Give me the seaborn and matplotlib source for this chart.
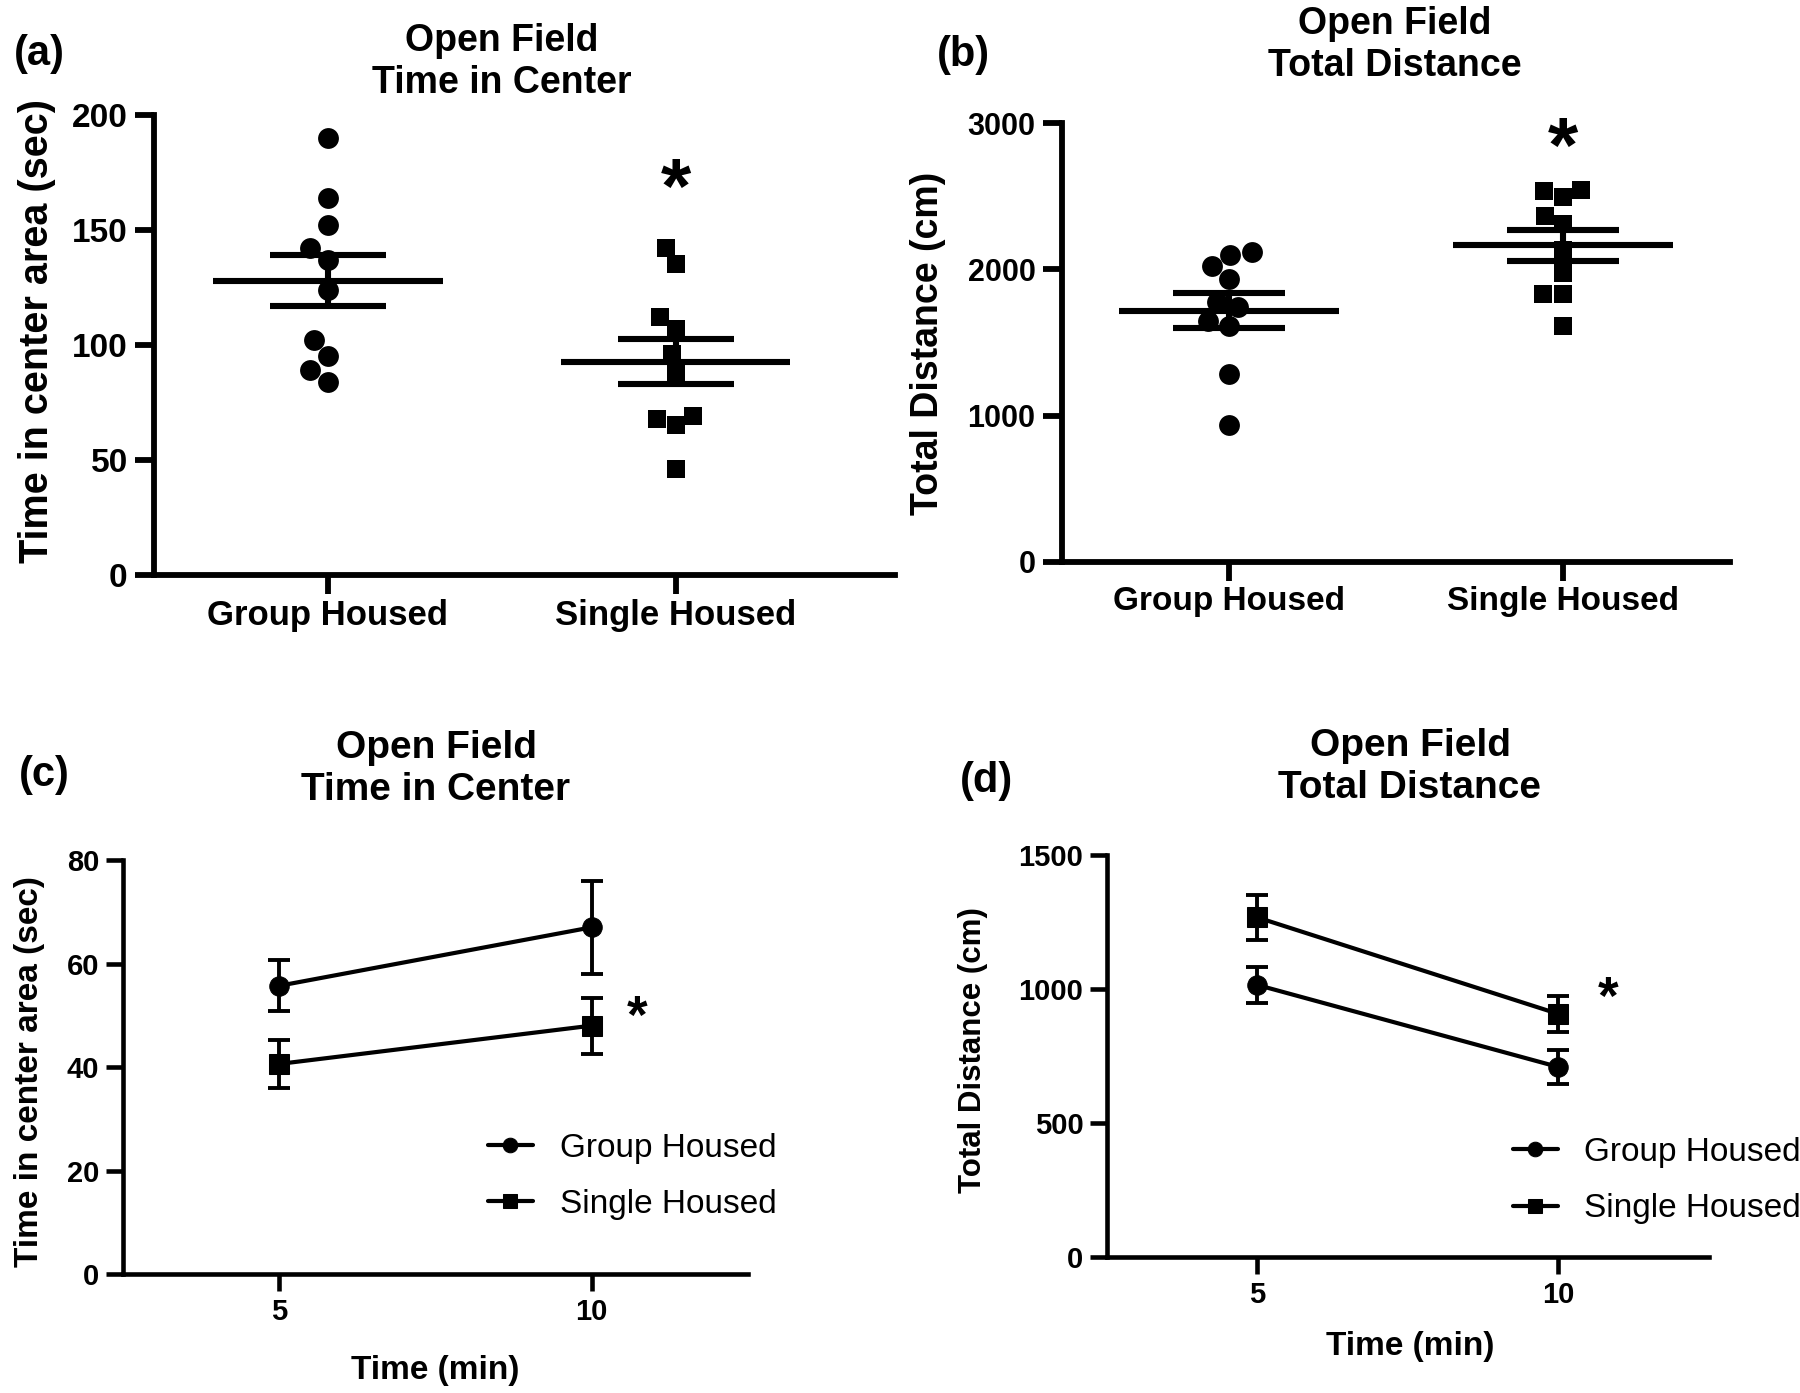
import numpy as np
import pandas as pd
import matplotlib
matplotlib.use("Agg")
import matplotlib.pyplot as plt
import seaborn as sns

# ---------------- data ----------------
groups = ["Group Housed", "Single Housed"]

center_time_group = [190, 164, 152, 142, 137, 124, 102, 95, 89, 84]
center_time_single = [142, 135, 112, 107, 96, 88, 69, 65, 68, 46]
distance_group = [2022, 2101, 2121, 1933, 1778, 1744, 1646, 1615, 1287, 935]
distance_single = [2537, 2545, 2494, 2362, 2312, 2129, 1975, 1834, 1834, 1610]

times = [5, 10]
center_mean_group = [55.7, 67.0]
center_sem_group = [4.9, 9.0]
center_mean_single = [40.6, 48.0]
center_sem_single = [4.6, 5.4]
dist_mean_group = [1015, 709]
dist_sem_group = [68, 65]
dist_mean_single = [1267, 907]
dist_sem_single = [85, 66]

# ---------------- style ----------------
sns.set_theme(style="ticks", rc={
    "axes.edgecolor": "black", "xtick.color": "black", "ytick.color": "black",
    "text.color": "black", "axes.labelcolor": "black",
})
plt.rcParams["font.family"] = ["Liberation Sans", "DejaVu Sans"]
plt.rcParams["font.weight"] = "bold"
plt.rcParams["axes.labelweight"] = "bold"

fig = plt.figure(figsize=(18, 13.93), dpi=100)


def style_axes(ax, lw, tick_fs=22, xtick_fs=None):
    ax.spines[["top", "right"]].set_visible(False)
    for s in ["left", "bottom"]:
        ax.spines[s].set_linewidth(lw)
    ax.tick_params(axis="both", direction="out", length=10, width=lw, pad=5)
    ax.tick_params(axis="y", labelsize=tick_fs)
    ax.tick_params(axis="x", labelsize=xtick_fs or tick_fs)
    for lab in ax.get_xticklabels() + ax.get_yticklabels():
        lab.set_fontweight("bold")


def scatter_panel(ax, g_vals, s_vals, ylim, yticks, ylabel, xlim, ylab_pos,
                  ytick_fs, xtick_fs, ylab_fs):
    df = pd.DataFrame({
        "group": [groups[0]] * len(g_vals) + [groups[1]] * len(s_vals),
        "value": g_vals + s_vals,
    })
    sns.swarmplot(data=df[df.group == groups[0]], x="group", y="value",
                  order=groups, marker="o", size=15, color="black", ax=ax)
    sns.swarmplot(data=df[df.group == groups[1]], x="group", y="value",
                  order=groups, marker="s", size=13.5, color="black", ax=ax)
    for i, g in enumerate(groups):
        v = df.loc[df.group == g, "value"].to_numpy(dtype=float)
        m = v.mean()
        se = v.std(ddof=1) / np.sqrt(len(v))
        ax.hlines(m, i - 0.33, i + 0.33, color="black", lw=4.4, zorder=5)
        ax.hlines([m - se, m + se], i - 0.167, i + 0.167, color="black", lw=4.4, zorder=5)
        ax.vlines(i, m - se, m + se, color="black", lw=4.4, zorder=5)
    ax.set_xlim(*xlim)
    ax.set_ylim(*ylim)
    ax.set_yticks(yticks)
    ax.set_xlabel("")
    ax.set_ylabel(ylabel, fontsize=ylab_fs, fontweight="bold", va="center")
    ax.yaxis.set_label_coords(*ylab_pos)
    style_axes(ax, lw=4.2, tick_fs=ytick_fs, xtick_fs=xtick_fs)
    ax.tick_params(axis="x", length=14, pad=3)
    ax.tick_params(axis="y", length=14)


def line_panel(ax, gm, gs, sm, ss, ylim, yticks, ylabel, ylab_pos, xlab_pos,
               leg_anchor, ylab_fs):
    df = pd.DataFrame({
        "time": times * 2,
        "mean": gm + sm,
        "sem": gs + ss,
        "group": [groups[0]] * len(times) + [groups[1]] * len(times),
    })
    sns.lineplot(data=df, x="time", y="mean", hue="group", style="group",
                 markers={groups[0]: "o", groups[1]: "s"}, dashes=False,
                 palette=["black", "black"], markersize=14,
                 markeredgecolor="black", linewidth=3.0, errorbar=None,
                 ax=ax, legend=True)
    for g in groups:
        sub = df[df.group == g]
        ax.errorbar(sub["time"], sub["mean"], yerr=sub["sem"], fmt="none",
                    ecolor="black", elinewidth=2.8, capsize=8, capthick=2.8)
    ax.set_xlim(2.5, 12.5)
    ax.set_xticks(times)
    ax.set_ylim(*ylim)
    ax.set_yticks(yticks)
    ax.set_xlabel("Time (min)", fontsize=24, fontweight="bold")
    ax.set_ylabel(ylabel, fontsize=ylab_fs, fontweight="bold", va="center")
    ax.yaxis.set_label_coords(*ylab_pos)
    ax.xaxis.set_label_coords(*xlab_pos)
    handles, labels = ax.get_legend_handles_labels()
    for h in handles:
        h.set_markersize(10.5)
        h.set_linewidth(3.0)
        h.set_color("black")
    ax.legend(handles, labels, loc="center left", bbox_to_anchor=leg_anchor,
              frameon=False, prop={"size": 24, "weight": "normal"},
              handlelength=1.35, handletextpad=0.8, labelspacing=0.76,
              borderpad=0, borderaxespad=0)
    style_axes(ax, lw=3.3, tick_fs=21)
    ax.tick_params(axis="both", length=12)


# ---------------- panels ----------------
ax_a = fig.add_axes([0.0856, 0.5872, 0.4115, 0.3303])
scatter_panel(ax_a, center_time_group, center_time_single, (0, 200),
              [0, 50, 100, 150, 200], "Time in center area (sec)",
              (-0.5, 1.63), (-0.158, 0.53), 24, 25, 28.5)
ax_a.text(1, 166.5, "*", ha="center", va="center", fontsize=56, fontweight="bold")

ax_b = fig.add_axes([0.59, 0.5966, 0.3711, 0.3151])
scatter_panel(ax_b, distance_group, distance_single, (0, 3000),
              [0, 1000, 2000, 3000], "Total Distance (cm)",
              (-0.5, 1.5), (-0.2, 0.497), 22, 24, 27)
ax_b.text(1, 2804, "*", ha="center", va="center", fontsize=56, fontweight="bold")

ax_c = fig.add_axes([0.0683, 0.0854, 0.3472, 0.2972])
line_panel(ax_c, center_mean_group, center_sem_group, center_mean_single,
           center_sem_single, (0, 80), [0, 20, 40, 60, 80],
           "Time in center area (sec)", (-0.15, 0.49), (0.5, -0.195),
           (0.584, 0.236), 24)
ax_c.text(10.72, 49.2, "*", ha="center", va="center", fontsize=38, fontweight="bold")

ax_d = fig.add_axes([0.615, 0.0976, 0.3344, 0.2886])
line_panel(ax_d, dist_mean_group, dist_sem_group, dist_mean_single,
           dist_sem_single, (0, 1500), [0, 500, 1000, 1500],
           "Total Distance (cm)", (-0.222, 0.515), (0.503, -0.185),
           (0.674, 0.19), 22.5)
ax_d.text(10.83, 958, "*", ha="center", va="center", fontsize=38, fontweight="bold")

# ---------------- titles & panel labels ----------------
title_kw = dict(ha="center", va="center", fontweight="bold", linespacing=1.2)
fig.text(502 / 1800, 1 - 62 / 1393, "Open Field\nTime in Center", fontsize=27, **title_kw)
fig.text(1395 / 1800, 1 - 45 / 1393, "Open Field\nTotal Distance", fontsize=27, **title_kw)
fig.text(436 / 1800, 1 - 769 / 1393, "Open Field\nTime in Center", fontsize=28, **title_kw)
fig.text(1410 / 1800, 1 - 767 / 1393, "Open Field\nTotal Distance", fontsize=28, **title_kw)

lab_kw = dict(ha="center", va="center", fontweight="bold", fontsize=30)
fig.text(39 / 1800, 1 - 54 / 1393, "(a)", **lab_kw)
fig.text(963 / 1800, 1 - 55 / 1393, "(b)", **lab_kw)
fig.text(44 / 1800, 1 - 775 / 1393, "(c)", **lab_kw)
fig.text(986 / 1800, 1 - 781 / 1393, "(d)", **lab_kw)

fig.savefig("out.png", dpi=100, facecolor="white")
